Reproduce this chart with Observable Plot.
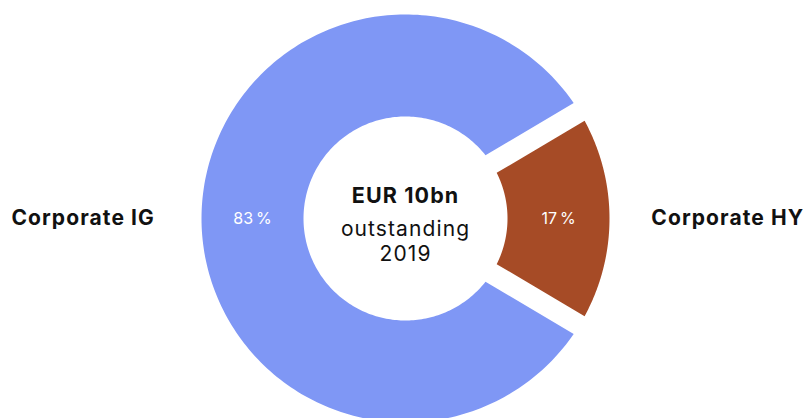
<!DOCTYPE html>
<html><head><meta charset="utf-8">
<script src="https://cdn.jsdelivr.net/npm/d3@7"></script>
<script src="https://cdn.jsdelivr.net/npm/@observablehq/plot@0.6"></script>
<style>
html,body{margin:0;padding:0;background:#fff;}
#chart svg{display:block;font-family:Inter,"Noto Sans",sans-serif;letter-spacing:0.11em;}
</style>
</head><body><div id="chart"></div>
<script>
// ---- data ----
const categories = ["Corporate IG", "Corporate HY"];
const shares = [83, 17];
const centerTitle = "EUR 10bn";
const centerLines = ["outstanding", "2019"];
const colors = ["#7f97f5", "#a64b26"];

// ---- layout ----
const W = 808, H = 418;
const R = 204, cx = 405, cy = 218;   // pixels
const innerRatio = 0.5;
const padPx = [13.75, 7.1];          // half-gap per slice (px)

const total = d3.sum(shares);
const hyFrac = shares[1] / total;
const start = Math.PI / 2 + hyFrac * Math.PI;
const pie = d3.pie().sort(null).startAngle(start).endAngle(start + 2 * Math.PI);
const arcs = pie(shares).map((a, i) => ({...a, cat: categories[i], i}));

const pt = (r, a) => ({x: r * Math.sin(a), y: r * Math.cos(a)});
const polys = [];
for (const a of arcs) {
  const p = padPx[a.i] / R;
  const o0 = a.startAngle + Math.asin(p), o1 = a.endAngle - Math.asin(p);
  const i0 = a.startAngle + Math.asin(p / innerRatio), i1 = a.endAngle - Math.asin(p / innerRatio);
  const n = 240;
  for (let k = 0; k <= n; k++) polys.push({...pt(1, o0 + (o1 - o0) * k / n), cat: a.cat});
  for (let k = 0; k <= n; k++) polys.push({...pt(innerRatio, i1 + (i0 - i1) * k / n), cat: a.cat});
}
const mid = a => (a.startAngle + a.endAngle) / 2;
const labels = arcs.map(a => ({
  cat: a.cat,
  pct: a.value + "\u202F%",
  mx: 0.75 * Math.sin(mid(a)), my: 0.75 * Math.cos(mid(a)),
  lx: 1.58 * Math.sin(mid(a)), ly: 1.58 * Math.cos(mid(a))
}));

const chart = Plot.plot({
  width: W, height: H, margin: 0,
  style: {fontFamily: "Inter, 'Noto Sans', sans-serif", background: "#fff"},
  x: {domain: [-cx / R, (W - cx) / R], axis: null},
  y: {domain: [-(H - cy) / R, cy / R], axis: null},
  color: {domain: categories, range: colors},
  marks: [
    Plot.line(polys, {x: "x", y: "y", z: "cat", fill: "cat", stroke: null, curve: "linear-closed"}),
    Plot.text(labels, {x: "mx", y: "my", text: "pct", fill: "white", fontSize: 16}),
    Plot.text(labels, {x: "lx", y: "ly", text: "cat", fill: "#111", fontSize: 21, fontWeight: 700}),
    Plot.text([centerTitle], {x: () => 0, y: () => 0, text: d => d, fontSize: 21.5, fontWeight: 700, fill: "#111", dy: -22}),
    Plot.text([centerLines.join("\n")], {x: () => 0, y: () => 0, text: d => d, fontSize: 21, fill: "#111", lineHeight: 1.22, lineAnchor: "top", dy: -1})
  ]
});
document.getElementById("chart").appendChild(chart);
</script>
</body></html>
